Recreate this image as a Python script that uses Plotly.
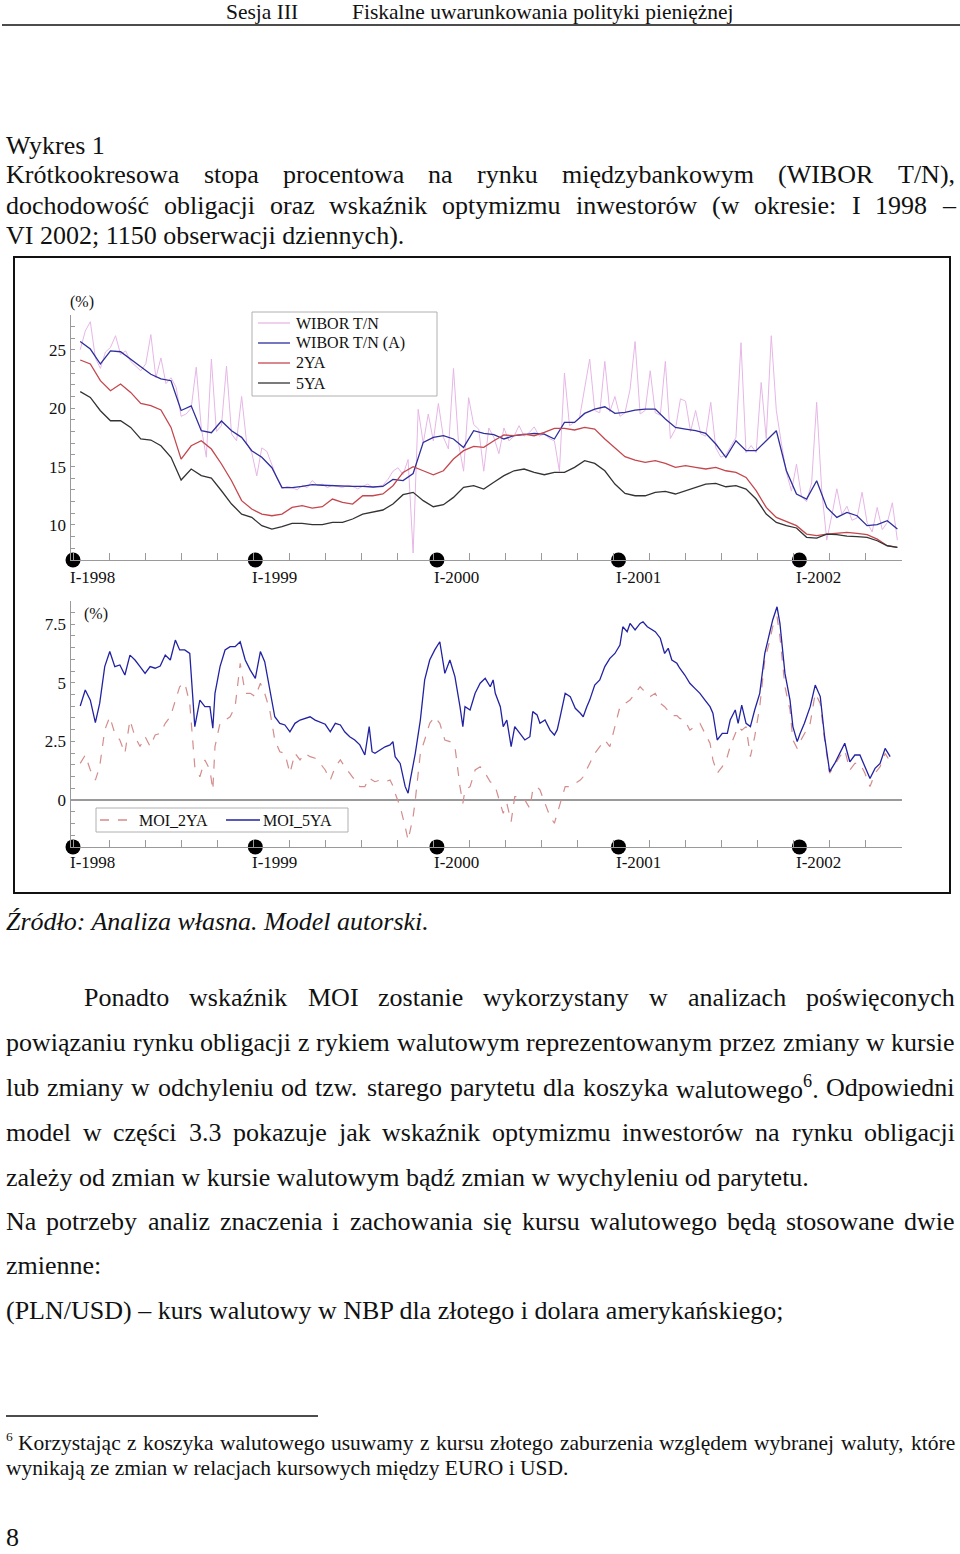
import plotly.graph_objects as go

W, H = 960, 1554
SERIF = "Liberation Serif"


def X(px):
    return px / W


def Y(py):
    return 1 - py / H


# ---------------- DATA ----------------
year_labels = ["I-1998", "I-1999", "I-2000", "I-2001", "I-2002"]
year_obs = [0, 253, 505, 757, 1008]          # observation index of each year start
minor_tick_obs = list(range(0, 1151, 50))

obs_raw = list(range(10, 1150, 7))           # daily observation index (every 7th)
wibor_tn = [
    25.0, 26.6, 27.4, 24.3, 23.4, 24.8, 25.2, 26.2, 24.6, 24.9,
    24.0, 23.6, 23.2, 23.8, 26.3, 22.6, 24.3, 22.1, 22.6, 21.8,
    19.3, 19.5, 20.0, 23.5, 18.3, 15.8, 24.2, 18.0, 18.5, 23.6,
    17.8, 17.2, 21.0, 17.0, 16.2, 14.2, 16.6, 16.3, 15.2, 14.0,
    13.1, 13.3, 13.2, 13.0, 13.4, 13.2, 13.8, 13.4, 13.5, 13.2,
    13.4, 13.3, 13.2, 13.4, 13.3, 13.1, 13.3, 13.5, 13.2, 13.3,
    13.4, 13.9, 14.6, 14.9, 14.3, 15.6, 7.6, 19.9, 17.0, 19.5,
    17.2, 20.4, 17.5, 16.5, 23.4, 17.0, 14.6, 20.9, 18.6, 18.2,
    14.6, 18.3, 17.5, 16.1, 18.3, 17.2, 17.6, 18.5, 17.6, 17.9,
    18.4, 17.6, 17.8, 17.4, 17.2, 14.6, 23.0, 18.5, 18.8, 19.2,
    21.9, 24.2, 19.8, 19.6, 24.0, 19.7, 21.0, 19.3, 19.6, 21.6,
    25.7, 19.5, 19.8, 23.2, 19.6, 19.4, 24.0, 17.4, 18.2, 20.8,
    20.6, 18.0, 19.8, 17.8, 17.6, 20.5, 16.6, 15.8, 16.0, 16.8,
    17.5, 25.6, 16.2, 16.8, 16.2, 22.2, 17.4, 26.2, 19.8, 17.0,
    14.5, 12.9, 15.2, 12.4, 12.0, 13.6, 20.5, 13.0, 8.7, 10.8,
    13.1, 10.9, 11.6, 10.4, 10.6, 12.8, 10.2, 9.4, 11.5, 9.6,
    10.2, 11.9, 8.7,
]

obs_smooth = list(range(10, 1150, 14))
wibor_tn_a = [
    25.7, 25.06, 23.78, 24.9, 24.83, 24.2, 23.5, 22.9, 22.5, 22.35,
    19.8, 20.2, 18.07, 17.9, 18.9, 18.07, 17.5, 16.36, 15.79, 14.9,
    13.2, 13.2, 13.3, 13.45, 13.4, 13.35, 13.3, 13.3, 13.3, 13.25,
    13.3, 13.9, 13.8, 14.4, 17.07, 17.5, 17.64, 17.36, 16.64, 18.07,
    17.84, 17.73, 17.36, 17.64, 17.73, 17.84, 17.78, 17.36, 18.78, 18.78,
    19.55, 19.92, 20.12, 19.55, 19.64, 19.84, 19.92, 19.92, 19.07, 18.35,
    18.21, 18.07, 17.84, 16.93, 15.79, 17.21, 16.36, 16.36, 17.21, 18.07,
    14.64, 12.65, 12.22, 13.79, 11.5, 10.65, 11.08, 10.79, 9.94, 10.02,
    10.36, 9.65,
]
yield_2ya = [
    24.12, 23.78, 22.35, 21.49, 22.06, 21.35, 20.41, 20.21, 19.84, 18.35,
    15.64, 16.78, 17.21, 16.5, 15.22, 13.79, 12.08, 11.36, 10.93, 10.79,
    10.93, 11.5, 11.65, 11.45, 11.56, 12.22, 11.93, 11.79, 12.5, 12.5,
    12.65, 13.36, 14.5, 14.99, 14.64, 14.3, 14.64, 15.64, 16.36, 16.73,
    16.64, 17.21, 17.7, 17.64, 17.78, 17.64, 17.93, 18.27, 18.27, 18.13,
    18.35, 18.21, 17.36, 16.64, 15.84, 15.56, 15.36, 15.5, 15.27, 14.93,
    15.07, 14.93, 14.79, 14.93, 14.64, 14.5, 14.07, 12.93, 11.5, 10.65,
    10.31, 9.94, 9.22, 9.08, 9.22, 9.28, 9.36, 9.28, 9.17, 8.79,
    8.22, 8.08,
]
yield_5ya = [
    21.41, 20.92, 19.78, 18.92, 18.92, 18.35, 17.36, 17.27, 16.78, 15.79,
    13.85, 14.79, 14.22, 14.02, 12.93, 11.79, 10.93, 10.65, 9.94, 9.65,
    9.85, 10.14, 10.14, 10.02, 10.02, 10.22, 10.22, 10.51, 10.93, 11.08,
    11.28, 11.79, 12.59, 12.79, 12.08, 11.56, 11.73, 12.36, 13.22, 13.36,
    13.07, 13.65, 14.22, 14.64, 14.79, 14.5, 14.3, 14.5, 14.5, 14.93,
    15.5, 15.27, 14.64, 13.5, 12.7, 12.5, 12.5, 12.79, 12.87, 12.65,
    12.93, 13.22, 13.5, 13.56, 13.27, 13.36, 13.07, 12.22, 10.93, 10.22,
    9.94, 9.74, 8.94, 8.88, 9.22, 9.17, 9.05, 9.0, 8.94, 8.65,
    8.22, 8.08,
]

obs_moi = [
    10, 17, 24, 31, 37, 44, 51, 58, 65, 72,
    79, 86, 93, 100, 107, 114, 121, 128, 135, 142,
    148, 155, 162, 169, 176, 183, 190, 194, 197, 204,
    211, 218, 225, 232, 239, 246, 253, 260, 266, 273,
    280, 287, 294, 301, 308, 315, 322, 329, 336, 343,
    350, 357, 364, 371, 377, 384, 391, 398, 405, 411,
    415, 419, 426, 433, 440, 444, 447, 454, 461, 465,
    468, 472, 475, 482, 488, 495, 502, 509, 516, 523,
    530, 537, 541, 544, 551, 558, 565, 572, 579, 583,
    586, 593, 597, 602, 608, 613, 620, 627, 634, 638,
    644, 648, 655, 662, 668, 672, 676, 683, 690, 697,
    704, 708, 713, 717, 724, 731, 738, 745, 752, 759,
    763, 769, 773, 780, 787, 791, 797, 801, 808, 815,
    821, 826, 831, 838, 842, 849, 856, 863, 870, 877,
    884, 888, 894, 901, 908, 912, 919, 923, 928, 934,
    940, 946, 953, 960, 967, 971, 977, 981, 988, 995,
    999, 1005, 1009, 1015, 1023, 1030, 1037, 1043, 1050, 1057,
    1064, 1071, 1078, 1085, 1092, 1099, 1106, 1113, 1120, 1127,
    1134,
]
moi_5ya = [
    4.01, 4.69, 4.26, 3.30, 4.12, 5.69, 6.33, 5.69, 5.76, 5.33,
    6.18, 5.97, 5.69, 5.40, 5.69, 5.62, 5.71, 6.18, 5.97, 6.82,
    6.40, 6.40, 6.25, 3.13, 4.26, 3.98, 3.98, 3.06, 4.55, 5.69,
    6.40, 6.54, 6.54, 6.75, 5.97, 5.54, 5.19, 6.33, 5.90, 4.69,
    3.55, 3.27, 3.20, 2.91, 3.27, 3.41, 3.48, 3.55, 3.41, 3.31,
    3.23, 2.91, 3.27, 3.20, 2.91, 2.70, 2.56, 2.35, 1.92, 3.13,
    2.06, 1.99, 2.13, 2.27, 2.35, 2.49, 1.85, 1.56, 0.57, 0.29,
    0.85, 1.42, 1.99, 3.41, 5.12, 5.97, 6.40, 6.75, 5.40, 5.97,
    5.26, 3.98, 3.13, 3.98, 3.84, 4.55, 4.98, 5.19, 4.83, 5.12,
    4.55, 3.98, 3.13, 3.41, 2.28, 3.13, 2.84, 2.56, 2.70, 3.77,
    3.63, 3.27, 3.41, 2.98, 2.77, 3.00, 3.55, 4.55, 4.41, 3.91,
    3.70, 3.55, 3.98, 4.26, 4.90, 5.12, 5.69, 6.04, 6.25, 6.61,
    7.39, 7.18, 7.53, 7.25, 7.53, 7.60, 7.39, 7.32, 7.18, 6.90,
    6.25, 6.47, 5.97, 5.83, 5.62, 5.33, 4.98, 4.76, 4.55, 4.26,
    3.98, 3.70, 2.56, 2.84, 2.84, 3.41, 3.84, 3.27, 4.05, 3.27,
    3.13, 3.84, 4.55, 6.25, 7.11, 7.68, 8.24, 7.53, 5.40, 4.26,
    3.13, 2.49, 2.84, 3.27, 3.98, 4.90, 4.41, 2.70, 1.21, 1.56,
    1.99, 2.42, 1.63, 1.92, 1.92, 1.42, 0.92, 1.35, 1.56, 2.20,
    1.85,
]
moi_2ya = [
    1.56, 1.92, 1.28, 0.85, 1.42, 2.98, 3.55, 2.84, 2.56, 1.99,
    3.41, 2.70, 2.28, 2.70, 2.28, 2.77, 2.84, 3.27, 3.55, 4.26,
    4.83, 5.00, 4.12, 1.42, 0.99, 1.71, 1.28, 0.43, 2.28, 3.27,
    3.41, 3.55, 3.98, 5.83, 4.55, 4.55, 4.41, 4.98, 4.55, 3.84,
    2.56, 2.06, 1.99, 1.14, 1.99, 1.71, 1.99, 1.85, 1.78, 1.56,
    1.28, 0.85, 1.42, 1.71, 1.42, 1.14, 0.85, 0.57, 0.57, 0.95,
    0.85, 0.78, 0.85, 0.78, 0.85, 0.60, 0.28, -0.28, -1.14, -1.71,
    -1.28, -0.71, 0.00, 1.99, 2.56, 3.27, 3.55, 3.27, 2.56, 2.49,
    2.28, 0.57, -0.14, 0.43, 0.57, 1.28, 1.42, 1.14, 0.78, 0.70,
    0.57, -0.14, -0.57, -0.14, -0.92, 0.14, 0.14, 0.00, -0.36, 0.43,
    0.57, 0.43, -0.14, -0.71, -0.99, -0.57, -0.21, 0.57, 0.57, 0.71,
    0.85, 0.99, 1.28, 1.56, 1.99, 2.28, 2.56, 2.28, 3.13, 3.98,
    4.05, 4.20, 4.26, 4.55, 4.83, 4.70, 4.50, 4.41, 4.55, 4.12,
    3.98, 3.80, 3.60, 3.60, 3.48, 3.41, 2.98, 3.13, 3.27, 2.84,
    2.42, 1.71, 1.14, 1.42, 1.85, 2.28, 2.84, 3.13, 2.98, 3.13,
    1.85, 2.70, 3.98, 5.97, 6.82, 7.39, 7.82, 6.97, 4.83, 3.84,
    2.56, 2.20, 2.49, 2.84, 3.27, 4.55, 4.12, 2.56, 1.14, 1.49,
    1.85, 2.13, 1.28, 1.56, 1.56, 1.14, 0.57, 1.14, 1.42, 1.99,
    1.63,
]

top_major_ticks = [10, 15, 20, 25]
bot_major_ticks = [0, 2.5, 5, 7.5]
bot_major_labels = ["0", "2.5", "5", "7.5"]

# ---------------- TEXT ----------------
header_left = "Sesja III"
header_right = "Fiskalne uwarunkowania polityki pieniężnej"
fig_label = "Wykres 1"
title_l1 = "Krótkookresowa stopa procentowa na rynku międzybankowym (WIBOR T/N),"
title_l2 = "dochodowość obligacji oraz wskaźnik optymizmu inwestorów (w okresie: I 1998 –"
title_l3 = "VI 2002; 1150 obserwacji dziennych)."
source = "Źródło: Analiza własna. Model autorski."
para = [
    ("Ponadto wskaźnik MOI zostanie wykorzystany w analizach poświęconych", True, 84),
    ("powiązaniu rynku obligacji z rykiem walutowym reprezentowanym przez zmiany w kursie", True, 6),
    ("lub zmiany w odchyleniu od tzw. starego parytetu dla koszyka walutowego⁶. Odpowiedni", True, 6),
    ("model w części 3.3 pokazuje jak wskaźnik optymizmu inwestorów na rynku obligacji", True, 6),
    ("zależy od zmian w kursie walutowym bądź zmian w wychyleniu od parytetu.", False, 6),
    ("Na potrzeby analiz znaczenia i zachowania się kursu walutowego będą stosowane dwie", True, 6),
    ("zmienne:", False, 6),
    ("(PLN/USD) – kurs walutowy w NBP dla złotego i dolara amerykańskiego;", False, 6),
]
para_y = [997, 1042, 1087, 1132, 1177, 1221, 1265, 1310]
foot_l1 = "Korzystając z koszyka walutowego usuwamy z kursu złotego zaburzenia względem wybranej waluty, które"
foot_l2 = "wynikają ze zmian w relacjach kursowych między EURO i USD."
page_no = "8"

# Times / Liberation Serif advance widths (per 1000 em)
CW = {' ': 250, '(': 333, ')': 333, ',': 250, '-': 333, '.': 250, '/': 278, ':': 278, ';': 278,
      '–': 500, '⁶': 350}
for c in "0123456789":
    CW[c] = 500
CW.update(dict(zip("ABCDEFGHIJKLMNOPQRSTUVWXYZ",
                   [722, 667, 667, 722, 611, 556, 722, 722, 333, 389, 722, 611, 889, 722, 722, 556,
                    722, 667, 556, 611, 722, 722, 944, 722, 722, 611])))
CW.update(dict(zip("abcdefghijklmnopqrstuvwxyz",
                   [444, 500, 444, 500, 444, 333, 500, 500, 278, 278, 500, 278, 778, 500, 500, 500,
                    500, 333, 389, 278, 500, 500, 722, 500, 500, 444])))
CW.update({'ą': 444, 'ć': 444, 'ę': 444, 'ł': 278, 'ń': 500, 'ó': 500, 'ś': 389, 'ź': 444,
           'ż': 444, 'Ź': 611, 'Ż': 611, 'Ó': 722, 'Ś': 556, 'Ł': 611})

annotations = []
shapes = []
TXT = "#111111"


def tw(s, size):
    return sum(CW.get(c, 500) for c in s) * size / 1000


def text(px, py, s, size, italic=False, anchor="left"):
    s = s.replace("⁶", "<sup>6</sup>")
    if italic:
        s = "<i>" + s + "</i>"
    annotations.append(dict(xref="paper", yref="paper", x=X(px), y=Y(py), text=s,
                            showarrow=False, xanchor=anchor, yanchor="middle",
                            borderpad=0, borderwidth=0,
                            font=dict(family=SERIF, size=size, color=TXT)))


def justify(line, left, right, py, size):
    words = line.split(" ")
    widths = [tw(w, size) for w in words]
    gap = (right - left - sum(widths)) / (len(words) - 1)
    x = left
    for w, wd in zip(words, widths):
        text(x, py, w, size)
        x += wd + gap


def hline(x0, x1, py, width=1.5, color="#111111", dash="solid"):
    shapes.append(dict(type="line", xref="paper", yref="paper", x0=X(x0), x1=X(x1),
                       y0=Y(py), y1=Y(py), line=dict(color=color, width=width, dash=dash)))


# page text
text(226, 12, header_left, 21.5)
text(352, 12, header_right, 21.5)
hline(2, 960, 25, 1.5)
text(6, 145, fig_label, 26)
justify(title_l1, 6, 955, 175, 26)
justify(title_l2, 6, 955, 205, 26)
text(6, 235, title_l3, 26)
text(6, 921, source, 26, italic=True)
for (line, just, left), py in zip(para, para_y):
    if just:
        justify(line, left, 955, py, 26)
    else:
        text(left, py, line, 26)
hline(6, 318, 1416, 1.5)
text(6, 1436, "6", 13.5)
justify(foot_l1, 18, 955, 1443, 21.5)
text(6, 1468, foot_l2, 21.5)
text(6, 1537, page_no, 26)

# chart frame
shapes.append(dict(type="rect", xref="paper", yref="paper", x0=X(14), x1=X(950), y0=Y(893),
                   y1=Y(257), line=dict(color="#111111", width=2)))

# colours
C_RAW, C_BLUE, C_RED, C_BLACK = "#e6b6e6", "#2e2e9c", "#c4474d", "#333333"
C_MOI2, C_MOI5 = "#d48c8c", "#2222a2"

# chart labels
CHART_FONT = dict(family=SERIF, size=17, color=TXT)
LEG_FONT = dict(family=SERIF, size=16, color=TXT)
annotations.append(dict(xref="paper", yref="paper", x=X(68), y=Y(302), text="(%)", showarrow=False,
                        xanchor="left", yanchor="middle", font=LEG_FONT))
annotations.append(dict(xref="paper", yref="paper", x=X(82), y=Y(614), text="(%)", showarrow=False,
                        xanchor="left", yanchor="middle", font=LEG_FONT))
for xref, py in (("x", 577), ("x2", 862)):
    for lab, ob in zip(year_labels, year_obs):
        annotations.append(dict(xref=xref, yref="paper", x=ob, y=Y(py), text=lab, showarrow=False,
                                xanchor="left", yanchor="middle", xshift=-5, font=CHART_FONT))

# legend boxes (drawn as shapes + text)
top_legend = [("WIBOR T/N", C_RAW, "solid"), ("WIBOR T/N (A)", C_BLUE, "solid"),
              ("2YA", C_RED, "solid"), ("5YA", C_BLACK, "solid")]
shapes.append(dict(type="rect", xref="paper", yref="paper", x0=X(252), x1=X(437), y0=Y(396),
                   y1=Y(312), line=dict(color="#b0b0b0", width=1), fillcolor="white", layer="above"))
for i, (name, col, dash) in enumerate(top_legend):
    py = 323 + 20 * i
    hline(258, 290, py, 1.3, col, dash)
    shapes[-1]["layer"] = "above"
    annotations.append(dict(xref="paper", yref="paper", x=X(296), y=Y(py), text=name, showarrow=False,
                            xanchor="left", yanchor="middle", borderpad=0, borderwidth=0, font=LEG_FONT))

bot_legend = [("MOI_2YA", C_MOI2, "dash", 100, 135, 139), ("MOI_5YA", C_MOI5, "solid", 226, 260, 263)]
shapes.append(dict(type="rect", xref="paper", yref="paper", x0=X(96), x1=X(348), y0=Y(832),
                   y1=Y(808), line=dict(color="#b0b0b0", width=1), fillcolor="white", layer="above"))
for name, col, dash, x0, x1, xt in bot_legend:
    hline(x0, x1, 820, 1.3, col, dash)
    shapes[-1]["layer"] = "above"
    annotations.append(dict(xref="paper", yref="paper", x=X(xt), y=Y(820), text=name, showarrow=False,
                            xanchor="left", yanchor="middle", borderpad=0, borderwidth=0, font=LEG_FONT))

# ---------------- FIGURE ----------------
fig = go.Figure()

fig.add_trace(go.Scatter(x=obs_raw, y=wibor_tn, name="WIBOR T/N", mode="lines",
                         line=dict(color=C_RAW, width=1), xaxis="x", yaxis="y"))
fig.add_trace(go.Scatter(x=obs_smooth, y=wibor_tn_a, name="WIBOR T/N (A)", mode="lines",
                         line=dict(color=C_BLUE, width=1.3), xaxis="x", yaxis="y"))
fig.add_trace(go.Scatter(x=obs_smooth, y=yield_2ya, name="2YA", mode="lines",
                         line=dict(color=C_RED, width=1.3), xaxis="x", yaxis="y"))
fig.add_trace(go.Scatter(x=obs_smooth, y=yield_5ya, name="5YA", mode="lines",
                         line=dict(color=C_BLACK, width=1.3), xaxis="x", yaxis="y"))

fig.add_trace(go.Scatter(x=obs_moi, y=moi_2ya, name="MOI_2YA", mode="lines",
                         line=dict(color=C_MOI2, width=1.2, dash="dash"), xaxis="x2", yaxis="y2"))
fig.add_trace(go.Scatter(x=obs_moi, y=moi_5ya, name="MOI_5YA", mode="lines",
                         line=dict(color=C_MOI5, width=1.3), xaxis="x2", yaxis="y2"))

# year dots
fig.add_trace(go.Scatter(x=year_obs, y=[7] * len(year_obs), mode="markers",
                         marker=dict(size=15, color="#000000"), cliponaxis=False, hoverinfo="skip",
                         xaxis="x", yaxis="y"))
fig.add_trace(go.Scatter(x=year_obs, y=[-2] * len(year_obs), mode="markers",
                         marker=dict(size=15, color="#000000"), cliponaxis=False, hoverinfo="skip",
                         xaxis="x2", yaxis="y2"))

AX = "#9a9a9a"
xcommon = dict(domain=[X(70.5), X(901.7)], range=[-3.5, 1150], showline=True, linecolor=AX,
               linewidth=1.2, ticks="inside", ticklen=7, tickcolor=AX, tickwidth=1,
               tickmode="array", tickvals=minor_tick_obs, showticklabels=False, showgrid=False,
               zeroline=False)
fig.update_layout(
    width=W, height=H, margin=dict(l=0, r=0, t=0, b=0),
    paper_bgcolor="white", plot_bgcolor="white",
    showlegend=False,
    xaxis=dict(anchor="y", **xcommon),
    xaxis2=dict(anchor="y2", **xcommon),
    yaxis=dict(anchor="x", domain=[Y(560), Y(314.7)], range=[7, 28], showline=True, linecolor=AX,
               linewidth=1.2, ticks="inside", ticklen=4, tickcolor=AX, tickmode="array",
               tickvals=top_major_ticks, tickfont=CHART_FONT, showgrid=False, zeroline=False,
               minor=dict(ticks="inside", ticklen=4, tickcolor=AX, tick0=0, dtick=1, showgrid=False)),
    yaxis2=dict(anchor="x2", domain=[Y(846.9), Y(600.7)], range=[-2, 8.5], showline=True,
                linecolor=AX, linewidth=1.2, ticks="inside", ticklen=4, tickcolor=AX,
                tickmode="array", tickvals=bot_major_ticks, ticktext=bot_major_labels,
                tickfont=CHART_FONT, showgrid=False, zeroline=True, zerolinecolor=AX,
                zerolinewidth=1.5,
                minor=dict(ticks="inside", ticklen=4, tickcolor=AX, tick0=0, dtick=0.5, showgrid=False)),
    annotations=annotations,
    shapes=shapes,
)

fig.write_html("out.html", config={"displayModeBar": False},
               post_script="document.body.style.margin='0px';document.body.style.overflow='hidden';")
